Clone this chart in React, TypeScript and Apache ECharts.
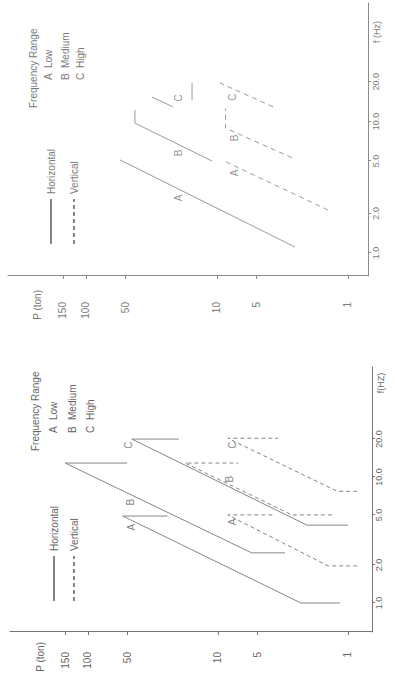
import React, { useEffect, useRef } from "react";
import * as echarts from "echarts";

// Axis ticks (f in Hz, P in ton)
const fTicks = [1, 2, 5, 10, 20];
const fTickLabels = ["1.0", "2.0", "5.0", "10.0", "20.0"];
const pTicks = [150, 100, 50, 10, 5, 1];
const pTickLabels = ["150", "100", "50", "10", "5", "1"];
const seriesNames = ["Horizontal", "Vertical"];
const rangeTitle = "Frequency Range";
const rangeKeys = ["A", "B", "C"];
const rangeNames = ["Low", "Medium", "High"];

// Lower panel: points are [f (Hz), P (ton)]
const lowHorizA = [[1.0, 1.15], [1.0, 2.3], [4.9, 54], [4.9, 24.5]];
const lowHorizB = [[2.5, 3.05], [2.5, 5.5], [12.9, 150], [12.9, 50]];
const lowHorizC = [[4.15, 1.0], [4.15, 2.07], [20, 46], [20, 20]];
const lowVertA = [[1.97, 0.85], [1.97, 1.42], [5.0, 8.4], [5.0, 3.8]];
const lowVertB = [[5.0, 1.33], [5.0, 2.7], [12.9, 17.9], [12.9, 7.0]];
const lowVertC = [[7.7, 0.85], [7.7, 1.21], [20.3, 8.4], [20.3, 3.45]];
const lowHorizMarks = [[4.0, 46], [6.3, 47], [17.9, 49]];
const lowVertMarks = [[4.4, 7.7], [9.6, 8.2], [17.9, 7.7]];

// Upper panel
const upHorizA = [[1.11, 2.54], [5.1, 55]];
const upHorizB = [[5.0, 10.9], [9.7, 42.3], [12.2, 42.3]];
const upHorizC1 = [[12.9, 21.7], [15.3, 31.3]];
const upHorizC2 = [[14.5, 15.5], [19.6, 15.5]];
const upVertA = [[2.12, 1.42], [5.1, 9.2]];
const upVertB = [[5.3, 2.68], [8.9, 8.6], [12.6, 8.6]];
const upVertC = [[12.9, 3.73], [19.6, 9.5]];
const upHorizMarks = [[2.62, 19.8], [5.75, 19.8], [15.1, 19.8]];
const upVertMarks = [[4.06, 7.3], [7.5, 7.3], [15.3, 7.6]];

const FONT = "'Liberation Sans', Arial, sans-serif";
const lg = (v: number) => Math.log10(v);
const toLog = (pts: number[][]) => pts.map(([f, p]) => [lg(f), lg(p)]);
const fmt = (ticks: number[], labels: string[]) => (v: number) => {
  const k = ticks.findIndex((t) => Math.abs(lg(t) - v) < 1e-4);
  return k >= 0 ? labels[k] : "";
};

type PanelCfg = {
  grid: any;
  fRange: number[];
  pRange: number[];
  xName: string;
  xNameGap: number;
  yNameGap: number;
  yNamePad: number;
  yLabelMargin: number;
  xLabelMargin: number;
  lineColor: string;
  textColor: string;
  axisColor: string;
  dash: number[];
  horiz: number[][][];
  vert: number[][][];
  horizMarks: number[][];
  vertMarks: number[][];
  legend: { left: number; top: number; itemGap: number };
  range: { x: number; y: number; keyX: number; nameX: number; rows: number[] };
};

const panels: PanelCfg[] = [
  {
    grid: { left: 46, right: 367, top: 10, bottom: 23 },
    fRange: [0.5886, 74.64],
    pRange: [0.6537, 398.1],
    xName: "f(HZ)",
    xNameGap: -16,
    yNameGap: -30,
    yNamePad: 10,
    yLabelMargin: 20,
    xLabelMargin: 2,
    lineColor: "#858585",
    textColor: "#666666",
    axisColor: "#777777",
    dash: [4, 3],
    horiz: [lowHorizA, lowHorizB, lowHorizC],
    vert: [lowVertA, lowVertB, lowVertC],
    horizMarks: lowHorizMarks,
    vertMarks: lowVertMarks,
    legend: { left: 71, top: 44, itemGap: 10 },
    range: { x: 227, y: 35, keyX: 245, nameX: 258, rows: [53, 72, 90] },
  },
  {
    grid: { left: 402, right: 3, top: 8, bottom: 27 },
    fRange: [0.6686, 79.38],
    pRange: [0.7036, 393.6],
    xName: "f (Hz)",
    xNameGap: -29,
    yNameGap: -29,
    yNamePad: 14,
    yLabelMargin: 26,
    xLabelMargin: 3,
    lineColor: "#9a9a9a",
    textColor: "#7a7a7a",
    axisColor: "#8a8a8a",
    dash: [5, 4],
    horiz: [upHorizA, upHorizB, upHorizC1, upHorizC2],
    vert: [upVertA, upVertB, upVertC],
    horizMarks: upHorizMarks,
    vertMarks: upVertMarks,
    legend: { left: 428, top: 41, itemGap: 13 },
    range: { x: 570, y: 33, keyX: 598, nameX: 610, rows: [48, 65, 80] },
  },
];

function buildOption() {
  const grid: any[] = [];
  const xAxis: any[] = [];
  const yAxis: any[] = [];
  const series: any[] = [];
  const legend: any[] = [];
  const graphic: any[] = [];

  panels.forEach((c, i) => {
    grid.push({ ...c.grid, containLabel: false, outerBoundsMode: "none" });
    xAxis.push({
      type: "value",
      gridIndex: i,
      min: lg(c.fRange[0]),
      max: lg(c.fRange[1]),
      axisLine: { show: true, onZero: false, lineStyle: { color: c.axisColor, width: 1 } },
      axisTick: { show: true, customValues: fTicks.map(lg), length: 3, lineStyle: { color: c.axisColor } },
      axisLabel: {
        show: true,
        customValues: fTicks.map(lg),
        formatter: fmt(fTicks, fTickLabels),
        margin: c.xLabelMargin,
        fontSize: 9,
        color: c.textColor,
        fontFamily: FONT,
      },
      splitLine: { show: false },
      name: c.xName,
      nameLocation: "end",
      nameGap: c.xNameGap,
      nameMoveOverlap: false,
      nameTextStyle: {
        align: "center",
        verticalAlign: "top",
        padding: [4, 0, 0, 0],
        fontSize: 9,
        color: c.textColor,
        fontFamily: FONT,
      },
    });
    yAxis.push({
      type: "value",
      gridIndex: i,
      position: "left",
      min: lg(c.pRange[0]),
      max: lg(c.pRange[1]),
      axisLine: { show: true, onZero: false, lineStyle: { color: c.axisColor, width: 1 } },
      axisTick: { show: true, customValues: pTicks.map(lg), length: 3, lineStyle: { color: c.axisColor } },
      axisLabel: {
        show: true,
        customValues: pTicks.map(lg),
        formatter: fmt(pTicks, pTickLabels),
        margin: c.yLabelMargin,
        fontSize: 10,
        color: c.textColor,
        fontFamily: FONT,
      },
      splitLine: { show: false },
      name: "P (ton)",
      nameLocation: "end",
      nameGap: c.yNameGap,
      nameMoveOverlap: false,
      nameTextStyle: {
        align: "right",
        verticalAlign: "middle",
        padding: [0, c.yNamePad, 0, 0],
        fontSize: 10,
        color: c.textColor,
        fontFamily: FONT,
      },
    });

    const lineSeries = (name: string, pts: number[][], dashed: boolean) => ({
      type: "line",
      name,
      xAxisIndex: i,
      yAxisIndex: i,
      data: toLog(pts),
      symbol: "none",
      silent: true,
      itemStyle: { color: c.lineColor },
      lineStyle: { color: c.lineColor, width: 1, type: dashed ? c.dash : "solid" },
    });
    c.horiz.forEach((pts) => series.push(lineSeries(seriesNames[0], pts, false)));
    c.vert.forEach((pts) => series.push(lineSeries(seriesNames[1], pts, true)));

    const marks = [...c.horizMarks, ...c.vertMarks].map((p, k) => ({
      value: [lg(p[0]), lg(p[1])],
      name: rangeKeys[k % 3],
    }));
    series.push({
      type: "scatter",
      name: "marks",
      xAxisIndex: i,
      yAxisIndex: i,
      data: marks,
      symbolSize: 1,
      silent: true,
      itemStyle: { color: "rgba(0,0,0,0)" },
      label: {
        show: true,
        position: "inside",
        formatter: "{b}",
        fontSize: 10,
        color: c.textColor,
        fontFamily: FONT,
      },
    });

    legend.push({
      data: seriesNames,
      orient: "vertical",
      left: c.legend.left,
      top: c.legend.top,
      itemWidth: 45,
      itemHeight: 12,
      itemGap: c.legend.itemGap,
      selectedMode: false,
      itemStyle: { opacity: 0 },
      textStyle: { fontSize: 10, color: c.textColor, fontFamily: FONT },
    });

    const txt = (text: string, x: number, y: number) => ({
      type: "text",
      x,
      y,
      silent: true,
      style: {
        text,
        fill: c.textColor,
        font: `10px ${FONT}`,
        align: "left",
        verticalAlign: "middle",
        textAlign: "left",
        textVerticalAlign: "middle",
      },
    });
    graphic.push(txt(rangeTitle, c.range.x, c.range.y));
    rangeKeys.forEach((k, r) => {
      graphic.push(txt(k, c.range.keyX, c.range.rows[r]));
      graphic.push(txt(rangeNames[r], c.range.nameX, c.range.rows[r]));
    });
  });

  return {
    animation: false,
    backgroundColor: "#ffffff",
    textStyle: { fontFamily: FONT },
    grid,
    xAxis,
    yAxis,
    series,
    legend,
    graphic,
  };
}

export default function App() {
  const ref = useRef<HTMLDivElement>(null);
  useEffect(() => {
    if (!ref.current) return;
    const chart = echarts.init(ref.current, undefined, { renderer: "svg" });
    chart.setOption(buildOption() as any);
    return () => chart.dispose();
  }, []);
  return (
    <div
      style={{
        position: "fixed",
        left: 0,
        top: 0,
        width: 395,
        height: 678,
        overflow: "hidden",
        background: "#ffffff",
      }}
    >
      <div
        ref={ref}
        style={{
          position: "absolute",
          left: 0,
          top: 0,
          width: 678,
          height: 395,
          transformOrigin: "0 0",
          transform: "translate(0px, 678px) rotate(-90deg)",
        }}
      />
    </div>
  );
}
